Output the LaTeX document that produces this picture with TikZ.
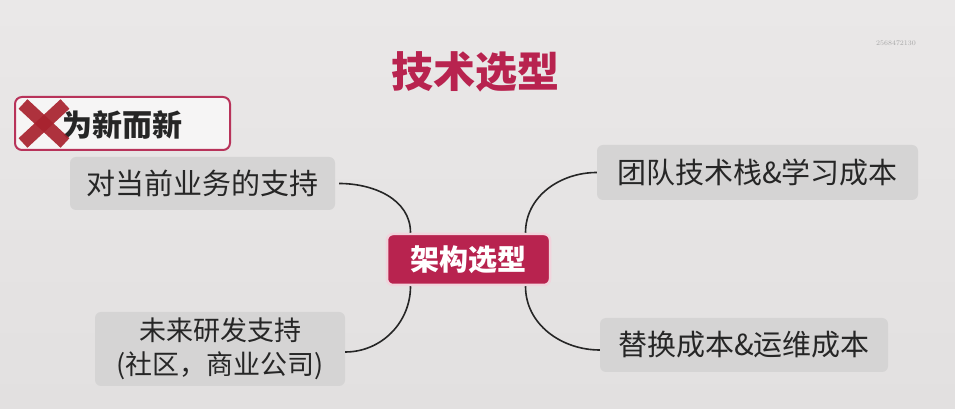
\documentclass[tikz,border=0pt]{standalone}
\usepackage{fontspec}
\newfontfamily\cjk{Noto Sans CJK SC}
\definecolor{bgtop}{HTML}{EAE8E8}
\definecolor{bgbot}{HTML}{E2E0E0}
\definecolor{crimson}{HTML}{B8234F}
\definecolor{boxfill}{HTML}{D5D4D4}
\definecolor{negred}{HTML}{A8222E}
\definecolor{negedge}{HTML}{B8335A}
\definecolor{inkc}{HTML}{262626}
\tikzset{
  topic/.style={rounded corners=6pt, fill=boxfill, inner sep=0pt, font=\cjk\fontsize{29}{35}\selectfont, text=inkc, align=center},
  hub/.style={rounded corners=6pt, fill=crimson, draw=white!80!crimson, line width=2.5pt, minimum width=163pt, minimum height=51pt, font=\cjk\bfseries\fontsize{29}{34}\selectfont, text=white},
  link/.style={line width=1.6pt, draw=black!85},
  xstroke/.style={line width=13pt, draw=negred, opacity=0.92},
}
\begin{document}
\begin{tikzpicture}[x=1pt,y=1pt]
  % page
  \shade[top color=bgtop, bottom color=bgbot] (0,0) rectangle (955,409);
  \useasboundingbox (0,0) rectangle (955,409);

  % title and corner mark
  \node (title) at (475,337) {\cjk\bfseries\fontsize{42}{48}\selectfont\color{crimson}技术选型};
  \node[text=black!35, font=\fontsize{7}{8}\selectfont] (mark) at (896,366) {2568472130};

  % the "novelty for its own sake" banner
  \node[rounded corners=7pt, draw=negedge, line width=2pt, fill=white!55!bgtop, minimum width=215pt, minimum height=53pt] (neg) at (122.5,285.5) {};
  \node[anchor=west, inner sep=0pt, font=\cjk\bfseries\fontsize{30}{34}\selectfont, text=inkc] (negtxt) at (62,284) {为新而新};
  % red cross over the banner's left end
  \coordinate (xa) at (23,266);
  \coordinate (xb) at (65,305);
  \coordinate (xc) at (23,305);
  \coordinate (xd) at (65,266);
  \draw[xstroke] (xa) -- (xb);
  \draw[xstroke] (xc) -- (xd);

  % topic boxes
  \node[topic, minimum width=265pt, minimum height=53pt] (cur) at (202.5,225.5) {对当前业务的支持};
  \node[topic, minimum width=250pt, minimum height=74pt, font=\cjk\fontsize{27}{34}\selectfont] (fut) at (220,60) {未来研发支持\\(社区，商业公司)};
  \node[topic, minimum width=321pt, minimum height=55pt] (team) at (757.5,236.5) {团队技术栈\&学习成本};
  \node[topic, minimum width=288pt, minimum height=54pt] (cost) at (744,64) {替换成本\&运维成本};

  % central node
  \node[hub] (hub) at (468.5,149.5) {架构选型};

  % connectors
  \coordinate (hubNW) at ([xshift=-58pt]hub.north);
  \coordinate (hubNE) at ([xshift=57pt]hub.north);
  \coordinate (hubSW) at ([xshift=-58pt]hub.south);
  \coordinate (hubSE) at ([xshift=57pt]hub.south);
  \draw[link] ([xshift=4pt]cur.east) to[out=0,in=90] (hubNW);
  \draw[link] (hubNE) to[out=90,in=180] (team.west);
  \draw[link] (hubSW) to[out=-90,in=0] ([yshift=-3pt]fut.east);
  \draw[link] (hubSE) to[out=-90,in=180] ([yshift=-5pt]cost.west);
\end{tikzpicture}
\end{document}
